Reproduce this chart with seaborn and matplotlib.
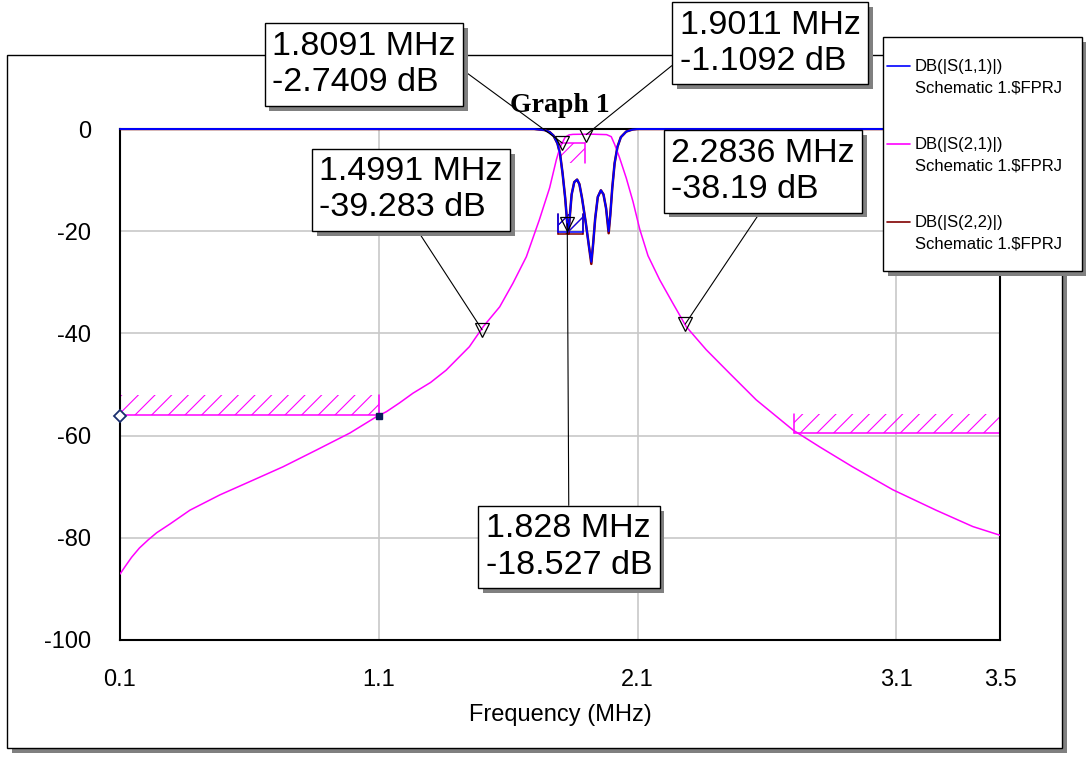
import matplotlib.pyplot as plt
import matplotlib.patheffects as pe
from matplotlib.lines import Line2D
from matplotlib.patches import Rectangle
import seaborn as sns

# S21 (MHz / dB)
freq_s21 = [0.1, 0.12, 0.145, 0.175, 0.209, 0.242, 0.293, 0.37, 0.486, 0.615, 0.73, 0.86, 0.988, 1.091,
            1.13, 1.18, 1.232, 1.30, 1.36, 1.45, 1.503, 1.567, 1.618, 1.67, 1.72, 1.76, 1.786, 1.80, 1.81,
            1.82, 1.835, 1.85, 1.915, 1.98, 1.998, 2.011, 2.03, 2.056, 2.082, 2.108, 2.14, 2.185, 2.236,
            2.288, 2.365, 2.455, 2.558, 2.70, 2.803, 2.93, 3.086, 3.253, 3.395, 3.5]
db_s21 = [-87.1, -85.6, -83.8, -82.0, -80.4, -79.0, -77.3, -74.6, -71.6, -68.7, -66.1, -62.8, -59.5, -56.3,
          -55.3, -53.6, -51.7, -49.6, -47.2, -42.6, -38.7, -34.8, -30.2, -25.0, -17.8, -11.5, -6.0, -3.6, -2.6,
          -1.6, -1.15, -1.05, -1.0, -1.1, -1.5, -3.0, -5.6, -9.6, -14.2, -19.6, -24.8, -29.5, -34.1,
          -38.7, -43.2, -47.8, -53.0, -58.9, -62.2, -66.1, -70.6, -74.6, -77.8, -79.5]

# S11 / S22 (same frequency grid)
freq_s11 = [0.1, 1.70, 1.74, 1.76, 1.775, 1.79, 1.80, 1.81, 1.82, 1.828, 1.833, 1.838, 1.845, 1.855,
            1.866, 1.875, 1.885, 1.90, 1.912, 1.921, 1.928, 1.936, 1.946, 1.958, 1.968, 1.978, 1.988,
            1.994, 2.002, 2.011, 2.022, 2.035, 2.056, 2.08, 2.1, 3.5]
db_s11 = [0.0, 0.0, -0.2, -0.6, -1.3, -2.8, -4.8, -8.7, -13.5, -18.5, -20.1, -17.0, -12.8, -10.4,
          -9.9, -10.8, -13.5, -18.5, -23.0, -26.0, -22.5, -17.5, -13.3, -12.0, -12.8, -15.5, -20.0,
          -17.0, -11.5, -6.7, -3.5, -1.6, -0.5, -0.1, 0.0, 0.0]
db_s22 = [0.0, 0.0, -0.2, -0.6, -1.3, -2.8, -4.8, -8.7, -13.5, -18.5, -20.5, -17.0, -12.8, -10.4,
          -9.9, -10.8, -13.5, -18.5, -23.0, -26.4, -22.5, -17.5, -13.3, -12.0, -12.8, -15.5, -20.4,
          -17.0, -11.5, -6.7, -3.5, -1.6, -0.5, -0.1, 0.0, 0.0]

# markers
marker_freq = [1.8091, 1.9011, 1.4991, 2.2836, 1.828]
marker_db = [-2.7409, -1.1092, -39.283, -38.19, -18.527]

# spec masks: start, stop, limit, hatch edge
mask_s21_low = [0.1, 1.1, -56.0, -52.0]
mask_s21_high = [2.706, 3.5, -59.5, -55.8]
mask_s21_pass = [1.80, 1.895, -2.8, -6.7]
mask_s11_pass = [1.792, 1.889, -20.2, -16.6]
mask_s22_pass = [1.792, 1.889, -20.5, -16.6]
limit_freq = [0.1, 1.1]
limit_db = [-56.2, -56.2]

x_ticks = [0.1, 1.1, 2.1, 3.1, 3.5]
y_ticks = [0, -20, -40, -60, -80, -100]
legend_labels = ["DB(|S(1,1)|)", "DB(|S(2,1)|)", "DB(|S(2,2)|)"]
legend_colors = ["#0000ff", "#ff00ff", "#800000"]

sns.set_theme(style="white")
plt.rcParams["font.family"] = ["Liberation Sans", "DejaVu Sans"]
plt.rcParams.update({"hatch.linewidth": 0.8, "text.color": "black", "axes.labelcolor": "black",
                     "xtick.color": "black", "ytick.color": "black"})

W, H = 1086, 761
fig = plt.figure(figsize=(W / 100, H / 100), dpi=100)
fig.patch.set_facecolor("white")
shadow = [pe.SimplePatchShadow(offset=(3.5, -3.5), shadow_rgbFace="#808080", alpha=1.0), pe.Normal()]


def fxy(x, y):  # reference pixel -> figure fraction
    return x / W, 1 - y / H


# outer frame with drop shadow
fig.add_artist(Rectangle(fxy(7, 748), 1055 / W, 693 / H, transform=fig.transFigure,
                         facecolor="white", edgecolor="black", lw=1, zorder=-1, path_effects=shadow))

ax = fig.add_axes([120 / W, 1 - 640 / H, 880 / W, 511 / H])
ax.set_facecolor("white")


def draw_mask(mask, color, ends):
    x0, x1, base, edge = mask
    ax.fill_between([x0, x1], base, edge, facecolor="none", edgecolor=color, hatch="//", lw=0, zorder=2.4)
    ax.plot([x0, x1], [base, base], color=color, lw=1.1, zorder=2.4, clip_on=False)
    for xe in ends:
        ax.plot([mask[xe], mask[xe]], [base, edge], color=color, lw=1.1, zorder=2.4, clip_on=False)


draw_mask(mask_s21_low, "#ff00ff", [0, 1])
draw_mask(mask_s21_high, "#ff00ff", [0])
draw_mask(mask_s21_pass, "#ff00ff", [1])
draw_mask(mask_s22_pass, "#800000", [0, 1])
draw_mask(mask_s11_pass, "#0000ff", [0, 1])

sns.lineplot(x=freq_s11, y=db_s22, color="#800000", lw=1.8, ax=ax, zorder=2.6)
sns.lineplot(x=freq_s21, y=db_s21, color="#ff00ff", lw=1.1, ax=ax, zorder=2.7)
sns.lineplot(x=freq_s11, y=db_s11, color="#0000ff", lw=1.4, ax=ax, zorder=2.8, clip_on=False)

ax.plot(limit_freq[:1], limit_db[:1], ls="none", marker="D", ms=6, mfc="white", mec="#1a2f6e",
        mew=1.3, zorder=5, clip_on=False)
ax.plot(limit_freq[1:], limit_db[1:], ls="none", marker="s", ms=5, color="#0a1a5a", zorder=5)
ax.plot(marker_freq, marker_db, ls="none", marker="v", ms=9.5, mfc="none", mec="black", mew=0.9, zorder=4)

# marker read-out boxes
box_xy = [(1.042, 12.6), (2.612, 16.8), (1.225, -11.9), (2.585, -8.3), (1.834, -81.8)]
box_relpos = [(1, 0.5), (0, 0.26), (0.51, 0), (0.51, 0), (0.5, 1)]
for f, d, xy, rel in zip(marker_freq, marker_db, box_xy, box_relpos):
    ann = ax.annotate(f"{f} MHz\n{d} dB", xy=(f, d), xytext=xy, textcoords="data",
                      ha="center", va="center", ma="left", fontsize=24.5, linespacing=1.22,
                      color="black",
                      bbox=dict(boxstyle="square,pad=0.22", fc="white", ec="black", lw=1),
                      arrowprops=dict(arrowstyle="-", color="black", lw=0.8, relpos=rel,
                                      shrinkA=0, shrinkB=0),
                      annotation_clip=False, zorder=6)
    ann.get_bbox_patch().set_path_effects(shadow)

ax.set_xlim(0.1, 3.5)
ax.set_ylim(-100, 0)
ax.set_xticks(x_ticks)
ax.set_xticklabels([f"{t:g}" for t in x_ticks])
ax.set_yticks(y_ticks)
ax.set_yticklabels([f"{t:g}" for t in y_ticks])
ax.tick_params(length=0, pad=21, labelsize=17, colors="black")
ax.grid(True, color="#c8c8c8", lw=1.2)
ax.set_axisbelow(True)
for s in ax.spines.values():
    s.set_color("black")
    s.set_linewidth(1.5)

ax.set_xlabel("Frequency (MHz)", fontsize=17, labelpad=9, color="black")
ax.set_title("Graph 1", fontfamily="Liberation Serif", fontweight="bold", fontsize=20, pad=12,
             color="black")

# legend box (handle sits on the first text line)
fig.add_artist(Rectangle(fxy(883, 271), 199 / W, 234 / H, transform=fig.transFigure,
                         facecolor="white", edgecolor="black", lw=1, zorder=7, path_effects=shadow))
for i, (lab, col) in enumerate(zip(legend_labels, legend_colors)):
    yc = 66 + 78 * i
    (x0, y0), (x1, _) = fxy(887, yc), fxy(910, yc)
    fig.add_artist(Line2D([x0, x1], [y0, y0], color=col, lw=1.2, transform=fig.transFigure, zorder=8))
    fig.text(*fxy(915, yc), lab, fontsize=12, va="center", ha="left", zorder=8, color="black")
    fig.text(*fxy(915, yc + 22), "Schematic 1.$FPRJ", fontsize=12, va="center", ha="left", zorder=8,
             color="black")

fig.savefig("out.png", dpi=100)
